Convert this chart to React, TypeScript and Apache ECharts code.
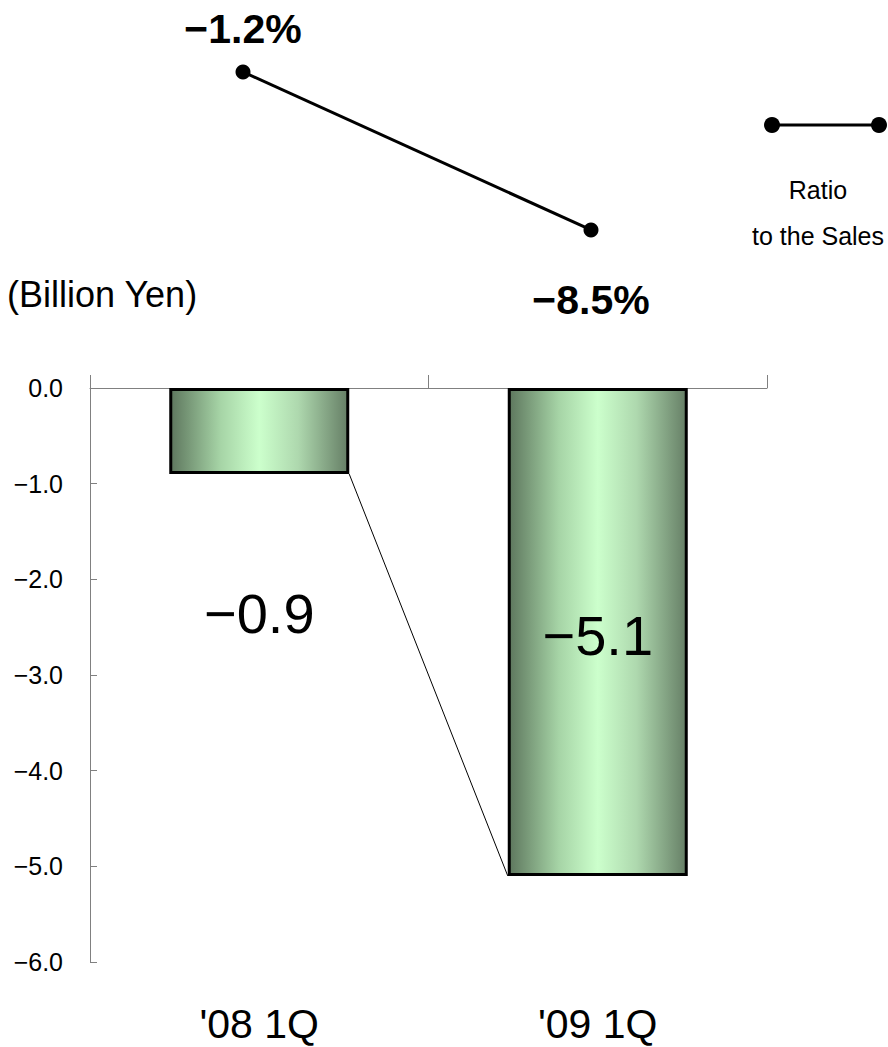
import React, { useEffect, useRef } from "react";
import * as echarts from "echarts";

const categories = ["'08 1Q", "'09 1Q"];
const operatingIncome = [-0.9, -5.1];
const ratioToSales = [-1.2, -8.5];
const yTicks = { min: -6, max: 0, interval: 1 };

const FONT = '"Liberation Sans", Arial, sans-serif';
const minus = (s: string) => s.replace("-", "\u2212");

export default function App() {
  const ref = useRef<HTMLDivElement>(null);
  useEffect(() => {
    if (!ref.current) return;
    const chart = echarts.init(ref.current, undefined, { renderer: "svg" });
    const barGradient = new echarts.graphic.LinearGradient(0, 0, 1, 0, [
      { offset: 0, color: "#5e775e" },
      { offset: 0.28, color: "#a6d4a6" },
      { offset: 0.5, color: "#ccffcc" },
      { offset: 0.72, color: "#aed8ae" },
      { offset: 1, color: "#667f66" },
    ]);
    const BAR_W = 180;
    chart.setOption({
      animation: false,
      textStyle: { fontFamily: FONT },
      grid: [
        { left: 90, top: 388, width: 677, height: 574 },
        { left: 69, top: 46, width: 696, height: 216.4 },
      ],
      xAxis: [
        {
          type: "category",
          gridIndex: 0,
          data: categories,
          position: "top",
          axisLine: { onZero: false, lineStyle: { color: "#808080", width: 1 } },
          axisTick: { show: true, length: 13, lineStyle: { color: "#808080" } },
          axisLabel: { show: false },
        },
        {
          type: "category",
          gridIndex: 0,
          data: categories,
          position: "bottom",
          axisLine: { show: false },
          axisTick: { show: false },
          axisLabel: {
            fontSize: 41,
            lineHeight: 40,
            color: "#000",
            margin: 42,
            fontFamily: FONT,
          },
        },
        {
          type: "category",
          gridIndex: 1,
          data: categories,
          show: false,
        },
      ],
      yAxis: [
        {
          type: "value",
          gridIndex: 0,
          min: yTicks.min,
          max: yTicks.max,
          interval: yTicks.interval,
          axisLine: { show: true, lineStyle: { color: "#808080" } },
          axisTick: { show: true, inside: true, length: 7, lineStyle: { color: "#808080" } },
          splitLine: { show: false },
          axisLabel: {
            fontSize: 25,
            color: "#000",
            margin: 27,
            fontFamily: FONT,
            formatter: (v: number) => minus(v.toFixed(1)),
          },
        },
        { type: "value", gridIndex: 1, min: -10, max: 0, show: false },
      ],
      series: [
        {
          type: "bar",
          xAxisIndex: 0,
          yAxisIndex: 0,
          barWidth: BAR_W,
          data: operatingIncome.map((v, i) => ({
            value: v,
            label:
              i === 0
                ? { position: "bottom", distance: 111 }
                : { position: "inside", offset: [0, 4] },
          })),
          itemStyle: { color: barGradient, borderColor: "#000", borderWidth: 3 },
          label: {
            show: true,
            fontSize: 56,
            color: "#000",
            fontFamily: FONT,
            formatter: (p: any) => minus(p.value.toFixed(1)),
          },
        },
        {
          type: "custom",
          xAxisIndex: 0,
          yAxisIndex: 0,
          data: [[0, operatingIncome[0], 1, operatingIncome[1]]],
          renderItem: (params: any, api: any) => {
            const p1 = api.coord([api.value(0), api.value(1)]);
            const p2 = api.coord([api.value(2), api.value(3)]);
            return {
              type: "line",
              shape: { x1: p1[0] + BAR_W / 2, y1: p1[1], x2: p2[0] - BAR_W / 2, y2: p2[1] },
              style: { stroke: "#000", lineWidth: 1 },
              silent: true,
            };
          },
          z: 1,
        },
        {
          type: "line",
          xAxisIndex: 2,
          yAxisIndex: 1,
          data: ratioToSales.map((v, i) => ({
            value: v,
            label: i === 0 ? { position: "top", distance: 15 } : { position: "bottom", distance: 42 },
          })),
          symbol: "circle",
          symbolSize: 15,
          lineStyle: { color: "#000", width: 3 },
          itemStyle: { color: "#000" },
          label: {
            show: true,
            fontSize: 41,
            fontWeight: "bold",
            color: "#000",
            fontFamily: FONT,
            formatter: (p: any) => minus(p.value.toFixed(1)) + "%",
          },
        },
      ],
      graphic: [
        {
          type: "text",
          left: 7,
          top: 276,
          style: { text: "(Billion Yen)", fontSize: 36, fill: "#000", fontFamily: FONT },
        },
        {
          type: "line",
          shape: { x1: 772, y1: 125, x2: 879, y2: 125 },
          style: { stroke: "#000", lineWidth: 3 },
        },
        { type: "circle", shape: { cx: 772, cy: 125, r: 8 }, style: { fill: "#000" } },
        { type: "circle", shape: { cx: 879, cy: 125, r: 8 }, style: { fill: "#000" } },
        {
          type: "text",
          x: 818,
          y: 190,
          style: {
            text: "Ratio",
            fontSize: 25,
            fill: "#000",
            fontFamily: FONT,
            align: "center",
            verticalAlign: "middle",
          },
        },
        {
          type: "text",
          x: 818,
          y: 236,
          style: {
            text: "to the Sales",
            fontSize: 25,
            fill: "#000",
            fontFamily: FONT,
            align: "center",
            verticalAlign: "middle",
          },
        },
      ],
    });
    return () => chart.dispose();
  }, []);
  return (
    <div
      ref={ref}
      style={{ position: "absolute", left: 0, top: 0, width: 888, height: 1047, background: "#fff" }}
    />
  );
}
